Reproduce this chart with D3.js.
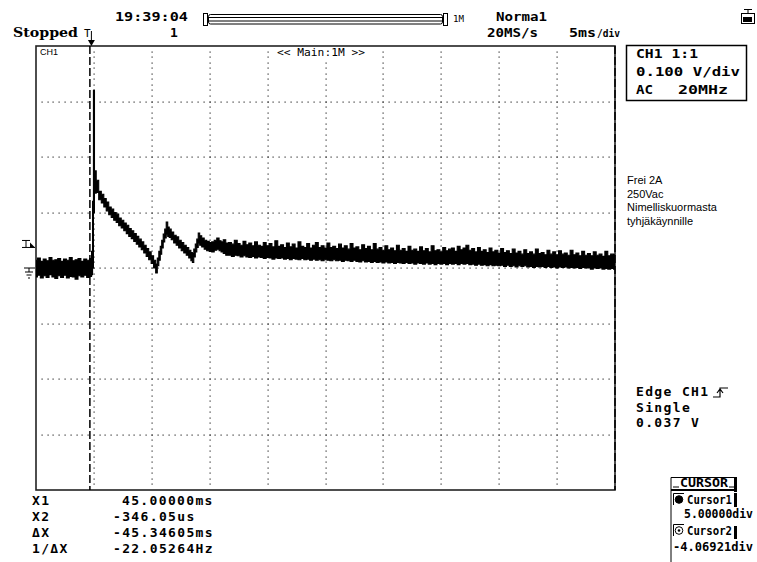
<!DOCTYPE html>
<html>
<head>
<meta charset="utf-8">
<script src="https://cdn.jsdelivr.net/npm/d3@7/dist/d3.min.js"></script>
<style>
body { margin: 0; background: #fff; }
svg { display: block; }
.mono { font-family: "DejaVu Sans Mono", monospace; font-weight: bold; font-size: 13px; letter-spacing: 1.35px; fill: #000; }
.small { font-family: "DejaVu Sans Mono", monospace; font-size: 10px; fill: #000; }
.note { font-family: "Liberation Sans", Arial, sans-serif; font-size: 11px; fill: #000; }
</style>
</head>
<body>
<div id="scope"></div>
<script>
// scope settings
var xDomain = [-5, 45];      // ms, 5 ms/div, trigger at 1 div
var yDomain = [-0.4, 0.4];   // V, 0.1 V/div
var cursorTimes = [45, -0.34605];
var trigLevel = 0.037;

// trace envelope: [t (ms), min (V), max (V)]
var trace = [
  [-5.0,-0.016,0.014],[-4.75,-0.013,0.018],[-4.5,-0.018,0.012],[-4.25,-0.014,0.016],
  [-4.0,-0.017,0.013],[-3.75,-0.012,0.019],[-3.5,-0.016,0.014],[-3.25,-0.019,0.015],
  [-3.0,-0.014,0.017],[-2.75,-0.017,0.012],[-2.5,-0.013,0.016],[-2.25,-0.018,0.014],
  [-2.0,-0.015,0.019],[-1.75,-0.016,0.013],[-1.5,-0.020,0.015],[-1.25,-0.014,0.017],
  [-1.0,-0.016,0.012],[-0.75,-0.013,0.016],[-0.5,-0.017,0.014],[-0.25,-0.015,0.017],
  [-0.15,-0.012,0.030],[-0.08,0.0,0.12],[0.0,0.10,0.32],[0.1,0.135,0.175],
  [0.3,0.136,0.158],[0.53,0.123,0.138],[0.75,0.117,0.133],[0.96,0.110,0.125],
  [1.17,0.103,0.119],[1.39,0.096,0.110],[1.6,0.091,0.106],[1.82,0.086,0.100],
  [2.03,0.082,0.097],[2.25,0.076,0.090],[2.47,0.072,0.086],[2.69,0.067,0.081],
  [2.9,0.062,0.077],[3.12,0.057,0.071],[3.33,0.053,0.067],[3.55,0.048,0.062],
  [3.77,0.043,0.057],[3.98,0.038,0.052],[4.2,0.033,0.047],[4.41,0.027,0.041],
  [4.62,0.021,0.035],[4.84,0.015,0.029],[5.05,0.008,0.022],[5.26,0.0,0.014],
  [5.41,-0.009,0.007],[5.54,0.004,0.018],[5.67,0.014,0.030],[5.79,0.025,0.039],
  [5.92,0.036,0.050],[6.05,0.047,0.061],[6.18,0.054,0.070],[6.31,0.060,0.083],
  [6.44,0.057,0.074],[6.57,0.055,0.070],[6.78,0.051,0.065],[7.0,0.045,0.059],
  [7.21,0.041,0.056],[7.43,0.036,0.050],[7.65,0.031,0.046],[7.87,0.027,0.041],
  [8.08,0.023,0.037],[8.3,0.018,0.032],[8.45,0.013,0.028],[8.56,0.010,0.026],
  [8.69,0.020,0.034],[8.82,0.029,0.043],[8.95,0.037,0.052],[9.07,0.045,0.063],
  [9.2,0.041,0.058],[9.42,0.038,0.054],[9.63,0.034,0.050],[9.85,0.031,0.048],
  [10.07,0.030,0.046],[10.28,0.029,0.047],[10.5,0.032,0.050],[10.72,0.034,0.054],
  [10.9,0.031,0.049],[11.06,0.029,0.047],[11.28,0.026,0.051],[11.49,0.023,0.045],
  [11.75,0.023,0.046],[12.0,0.021,0.043],[12.25,0.023,0.050],[12.5,0.022,0.044],
  [12.75,0.020,0.041],[13.0,0.022,0.048],[13.25,0.020,0.042],[13.5,0.019,0.045],
  [13.75,0.021,0.040],[14.0,0.018,0.047],[14.25,0.020,0.041],[14.5,0.019,0.039],
  [14.75,0.017,0.046],[15.0,0.019,0.040],[15.25,0.018,0.044],[15.5,0.016,0.038],
  [15.75,0.018,0.049],[16.0,0.017,0.039],[16.25,0.018,0.042],[16.5,0.016,0.037],
  [16.75,0.017,0.045],[17.0,0.015,0.038],[17.25,0.017,0.043],[17.5,0.016,0.036],
  [17.75,0.015,0.047],[18.0,0.017,0.039],[18.25,0.015,0.037],[18.5,0.016,0.044],
  [18.75,0.014,0.036],[19.0,0.016,0.041],[19.25,0.014,0.046],[19.5,0.015,0.037],
  [19.75,0.013,0.040],[20.0,0.015,0.036],[20.25,0.014,0.045],[20.5,0.013,0.037],
  [20.75,0.015,0.039],[21.0,0.013,0.035],[21.25,0.014,0.043],[21.5,0.012,0.036],
  [21.75,0.014,0.040],[22.0,0.013,0.034],[22.25,0.012,0.044],[22.5,0.014,0.036],
  [22.75,0.012,0.038],[23.0,0.011,0.033],[23.25,0.013,0.042],[23.5,0.011,0.035],
  [23.75,0.012,0.039],[24.0,0.010,0.033],[24.25,0.012,0.044],[24.5,0.010,0.034],
  [24.75,0.011,0.037],[25.0,0.009,0.032],[25.25,0.011,0.040],[25.5,0.009,0.033],
  [25.75,0.010,0.036],[26.0,0.008,0.031],[26.25,0.010,0.041],[26.5,0.009,0.032],
  [26.75,0.008,0.035],[27.0,0.010,0.030],[27.25,0.008,0.039],[27.5,0.009,0.032],
  [27.75,0.007,0.034],[28.0,0.009,0.030],[28.25,0.008,0.038],[28.5,0.007,0.031],
  [28.75,0.009,0.035],[29.0,0.007,0.029],[29.25,0.008,0.040],[29.5,0.006,0.031],
  [29.75,0.008,0.033],[30.0,0.007,0.029],[30.25,0.008,0.037],[30.5,0.006,0.031],
  [30.75,0.008,0.034],[31.0,0.007,0.036],[31.25,0.008,0.030],[31.5,0.006,0.039],
  [31.75,0.008,0.033],[32.0,0.007,0.036],[32.25,0.008,0.041],[32.5,0.006,0.032],
  [32.75,0.007,0.035],[33.0,0.005,0.029],[33.25,0.007,0.037],[33.5,0.005,0.030],
  [33.75,0.006,0.033],[34.0,0.004,0.028],[34.25,0.006,0.036],[34.5,0.004,0.029],
  [34.75,0.005,0.032],[35.0,0.004,0.027],[35.25,0.005,0.035],[35.5,0.003,0.028],
  [35.75,0.005,0.031],[36.0,0.003,0.026],[36.25,0.004,0.034],[36.5,0.002,0.027],
  [36.75,0.004,0.030],[37.0,0.003,0.025],[37.25,0.004,0.033],[37.5,0.002,0.026],
  [37.75,0.003,0.029],[38.0,0.001,0.025],[38.25,0.003,0.034],[38.5,0.002,0.026],
  [38.75,0.003,0.028],[39.0,0.001,0.024],[39.25,0.003,0.032],[39.5,0.001,0.025],
  [39.75,0.002,0.029],[40.0,0.000,0.024],[40.25,0.002,0.031],[40.5,0.001,0.025],
  [40.75,0.002,0.027],[41.0,0.000,0.023],[41.25,0.001,0.032],[41.5,0.000,0.024],
  [41.75,0.001,0.027],[42.0,-0.001,0.022],[42.25,0.001,0.030],[42.5,0.000,0.023],
  [42.75,0.000,0.026],[43.0,-0.002,0.022],[43.25,0.000,0.029],[43.5,-0.001,0.023],
  [43.75,0.000,0.025],[44.0,-0.002,0.021],[44.25,-0.001,0.030],[44.5,-0.002,0.022],
  [44.75,-0.001,0.025],[45.0,-0.002,0.024]
];

// screen texts
var readLabels = ["X1", "X2", "\u0394X", "1/\u0394X"];
var readValues = ["45.00000ms", "-346.05us", "-45.34605ms", "-22.05264Hz"];
var noteLines = ["Frei 2A", "250Vac", "Nimelliskuormasta", "tyhj\u00e4k\u00e4ynnille"];
var trigLines = ["Edge CH1", "Single", "0.037 V"];

var W = 757, H = 562;
var svg = d3.select("#scope").append("svg").attr("width", W).attr("height", H);

var x = d3.scaleLinear().domain(xDomain).range([36, 615]);
var y = d3.scaleLinear().domain(yDomain).range([490, 46]);

function txt(px, py, s, cls, len) {
  var t = svg.append("text").attr("x", px).attr("y", py).attr("class", cls).text(s);
  if (len) t.attr("textLength", len).attr("lengthAdjust", "spacingAndGlyphs").style("letter-spacing", "0px");
  return t;
}

// grid dots
var xMinor = x.ticks(100).slice(1, -1), yMinor = y.ticks(80).slice(1, -1);
var xMajor = x.ticks(10).slice(1, -1), yMajor = y.ticks(8).slice(1, -1);
var dots = [];
yMajor.forEach(function(v) { xMinor.forEach(function(t) { dots.push([x(t), y(v)]); }); });
xMajor.forEach(function(t) { yMinor.forEach(function(v) { dots.push([x(t), y(v)]); }); });
svg.append("g").selectAll("rect").data(dots).join("rect")
  .attr("x", d => Math.round(d[0]) - 0.5).attr("y", d => Math.round(d[1]) - 0.5)
  .attr("width", 1.2).attr("height", 1.2).attr("fill", "#333");

// plot frame
svg.append("rect").attr("x", 36).attr("y", 46).attr("width", 579).attr("height", 444)
  .attr("fill", "none").attr("stroke", "#222").attr("stroke-width", 1.6);

svg.append("clipPath").attr("id", "clip").append("rect")
  .attr("x", 36).attr("y", 46).attr("width", 579).attr("height", 444);

// cursors
svg.append("g").selectAll("line").data(cursorTimes).join("line")
  .attr("x1", d => x(d)).attr("x2", d => x(d)).attr("y1", 46).attr("y2", 490)
  .attr("stroke", "#000").attr("stroke-width", 1.5).attr("stroke-dasharray", "8,3");

// waveform (min/max envelope, drawn like a scope's peak display)
var band = d3.area().x(d => x(d[0])).y0(d => y(d[1])).y1(d => y(d[2])).curve(d3.curveStep);
svg.append("path").datum(trace).attr("d", band).attr("clip-path", "url(#clip)")
  .attr("fill", "#000").attr("stroke", "#000").attr("stroke-width", 1.1);

// small labels inside plot
txt(40, 55, "CH1", "note").style("font-size", "9px");
svg.append("rect").attr("x", 274).attr("y", 47).attr("width", 94).attr("height", 11).attr("fill", "#fff");
txt(277, 56, "<< Main:1M >>", "small", 88);

// trigger position marker
var tx = x(0) - 2.5;
txt(84, 37, "T", "small").style("font-size", "11px");
svg.append("line").attr("x1", tx).attr("x2", tx).attr("y1", 31).attr("y2", 40).attr("stroke", "#000");
svg.append("path").attr("d", d3.line()([[tx - 3.5, 40], [tx + 3.5, 40], [tx, 46]])).attr("fill", "#000");

// trigger level marker at left
var ty = y(trigLevel);
svg.append("path").attr("d", "M22," + (ty - 7) + "H30M26," + (ty - 7) + "V" + ty + "M22," + ty + "H35")
  .attr("stroke", "#000").attr("fill", "none");
svg.append("path").attr("d", d3.line()([[30, ty - 5], [35, ty], [30, ty]])).attr("fill", "#000");

// ground marker
var gy = y(0);
svg.append("path").attr("d", "M24," + gy + "H35M29," + gy + "V" + (gy + 4) +
  "M25," + (gy + 4) + "H33M26.5," + (gy + 7) + "H31.5M28," + (gy + 10) + "H30")
  .attr("stroke", "#000").attr("fill", "none");

// top status line
txt(115, 21, "19:39:04", "mono", 73);
txt(13, 37, "Stopped", "mono", 65).style("font-family", "'DejaVu Serif', serif");
txt(170, 37, "1", "mono");
txt(496, 21, "Norma1", "mono", 51);
txt(487, 37, "20MS/s", "mono", 51);
txt(569, 37, "5ms", "mono", 27);
txt(597, 37, "/div", "mono", 23).style("font-size", "10px");
txt(453, 22, "1M", "small", 11).style("font-size", "9px");

// record-length gauge
svg.append("rect").attr("x", 203.5).attr("y", 13.5).attr("width", 4).attr("height", 12)
  .attr("fill", "#fff").attr("stroke", "#000");
svg.append("rect").attr("x", 208.5).attr("y", 14.5).attr("width", 234).attr("height", 9.5)
  .attr("rx", 2).attr("fill", "#fff").attr("stroke", "#000");
svg.append("rect").attr("x", 208.5).attr("y", 17.5).attr("width", 234).attr("height", 3.5)
  .attr("fill", "none").attr("stroke", "#000");
svg.append("rect").attr("x", 443.5).attr("y", 13.5).attr("width", 4).attr("height", 12)
  .attr("fill", "#fff").attr("stroke", "#000");

// printer icon
svg.append("path").attr("d", "M744,9.5H752M748,9.5V13.5").attr("stroke", "#000").attr("fill", "none");
svg.append("rect").attr("x", 741.5).attr("y", 13.5).attr("width", 13).attr("height", 10)
  .attr("fill", "#fff").attr("stroke", "#000");
svg.append("rect").attr("x", 743).attr("y", 17).attr("width", 9).attr("height", 5).attr("fill", "#000");

// channel box
svg.append("rect").attr("x", 626.5).attr("y", 45.5).attr("width", 120).attr("height", 55)
  .attr("fill", "none").attr("stroke", "#000").attr("stroke-width", 1.5);
txt(636, 58, "CH1 1:1", "mono", 62);
txt(636, 76, "0.100 V/div", "mono", 104);
txt(636, 94, "AC", "mono", 17);
txt(678, 94, "20MHz", "mono", 50);

// notes
noteLines.forEach(function(s, i) { txt(627, 184 + i * 13.5, s, "note"); });

// trigger info
trigLines.forEach(function(s, i) { txt(636, 396 + i * 15.5, s, "mono"); });
svg.append("path").attr("d", "M713,397H720V388H728M717,393L720,389L723,393")
  .attr("stroke", "#000").attr("stroke-width", 1.2).attr("fill", "none");

// cursor box
svg.append("path").attr("d", "M671,562V477.5H737").attr("stroke", "#000").attr("fill", "none");
svg.append("line").attr("x1", 671).attr("x2", 736).attr("y1", 490).attr("y2", 490)
  .attr("stroke", "#000").attr("stroke-width", 2);
svg.append("path").attr("d", "M673,487H679M729,487H734").attr("stroke", "#000");
[[477, 492], [493, 507], [526, 539]].forEach(function(r) {
  svg.append("rect").attr("x", 734).attr("y", r[0]).attr("width", 3).attr("height", r[1] - r[0]).attr("fill", "#000");
});
txt(680, 487, "CURSOR", "mono", 48);
txt(687, 504, "Cursor1", "mono", 45);
txt(684, 518, "5.00000div", "mono", 69).style("font-size", "11.5px");
txt(673, 551, "-4.06921div", "mono", 80).style("font-size", "11.5px");
txt(687, 535, "Cursor2", "mono", 45);
[[499, true], [530, false]].forEach(function(c) {
  svg.append("path").attr("d", "M673.5," + (c[0] + 6) + "V" + (c[0] - 5.5) + "H684")
    .attr("stroke", "#000").attr("fill", "none");
  svg.append("circle").attr("cx", 679).attr("cy", c[0] + 0.5).attr("r", 3.8)
    .attr("fill", c[1] ? "#000" : "#fff").attr("stroke", "#000");
  if (!c[1]) svg.append("circle").attr("cx", 679).attr("cy", c[0] + 0.5).attr("r", 1.3).attr("fill", "#000");
});

// cursor readouts
readLabels.forEach(function(s, i) { txt(32, 505 + i * 16, s, "mono"); });
readValues.forEach(function(s, i) { txt(i === 0 ? 122 : 113, 505 + i * 16, s, "mono"); });
</script>
</body>
</html>
